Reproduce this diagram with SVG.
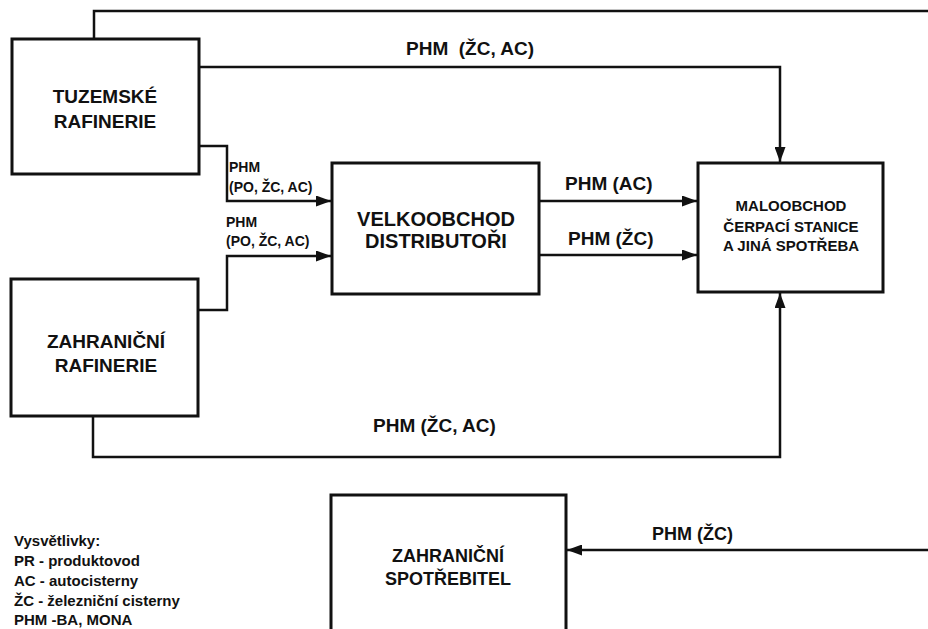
<svg xmlns="http://www.w3.org/2000/svg" width="928" height="629" viewBox="0 0 928 629">
<style>
.box{fill:#fff;stroke:#111;stroke-width:3}
.ln{fill:none;stroke:#111;stroke-width:2.5}
text{font-family:"Liberation Sans",Arial,sans-serif;font-weight:bold;fill:#111}
.c{text-anchor:middle}
.pre{white-space:pre}
</style>
<defs>
<marker id="ah" markerUnits="userSpaceOnUse" markerWidth="15" markerHeight="11" refX="15" refY="5.5" orient="auto">
<path d="M0,0 L15,5.5 L0,11 z" fill="#111"/>
</marker>
</defs>
<g id="connectors">
<path class="ln" d="M94,39 V11 H928"/>
<path class="ln" d="M199,67 H780 V162" marker-end="url(#ah)"/>
<path class="ln" d="M199,146 H227 V201 H331" marker-end="url(#ah)"/>
<path class="ln" d="M198,310 H227 V256 H331" marker-end="url(#ah)"/>
<path class="ln" d="M539,201 H697" marker-end="url(#ah)"/>
<path class="ln" d="M539,255 H697" marker-end="url(#ah)"/>
<path class="ln" d="M93,416 V457 H780 V293" marker-end="url(#ah)"/>
<path class="ln" d="M928,550 H567" marker-end="url(#ah)"/>
<text x="406" y="55" font-size="19" class="pre">PHM  (ŽC, AC)</text>
<text x="229" y="172" font-size="14">PHM</text>
<text x="229" y="192" font-size="14">(PO, ŽC, AC)</text>
<text x="226" y="227" font-size="14">PHM</text>
<text x="226" y="246" font-size="14">(PO, ŽC, AC)</text>
<text x="565" y="190" font-size="19">PHM (AC)</text>
<text x="568" y="245" font-size="19">PHM (ŽC)</text>
<text x="373" y="432" font-size="19">PHM (ŽC, AC)</text>
<text x="652" y="540" font-size="18">PHM (ŽC)</text>
</g>
<g id="tuzemske">
<rect class="box" x="12" y="39" width="187" height="135"/>
<text class="c" x="105" y="103" font-size="19">TUZEMSKÉ</text>
<text class="c" x="105" y="128" font-size="19">RAFINERIE</text>
</g>
<g id="zahranicni-rafinerie">
<rect class="box" x="11" y="279" width="187" height="137"/>
<text class="c" x="106" y="348" font-size="19">ZAHRANIČNÍ</text>
<text class="c" x="106" y="372" font-size="19">RAFINERIE</text>
</g>
<g id="velkoobchod">
<rect class="box" x="332" y="163" width="207" height="131"/>
<text class="c" x="436" y="226" font-size="20">VELKOOBCHOD</text>
<text class="c" x="436" y="248" font-size="20">DISTRIBUTOŘI</text>
</g>
<g id="maloobchod">
<rect class="box" x="698" y="163" width="185" height="129"/>
<text class="c" x="791" y="211" font-size="15">MALOOBCHOD</text>
<text class="c" x="791" y="232" font-size="15">ČERPACÍ STANICE</text>
<text class="c" x="791" y="251" font-size="15">A JINÁ SPOTŘEBA</text>
</g>
<g id="zahranicni-spotrebitel">
<rect class="box" x="331" y="495" width="235" height="150"/>
<text class="c" x="448" y="562" font-size="18">ZAHRANIČNÍ</text>
<text class="c" x="448" y="585" font-size="18">SPOTŘEBITEL</text>
</g>
<g id="legend">
<text x="14" y="546" font-size="15">Vysvětlivky:</text>
<text x="14" y="566" font-size="15">PR - produktovod</text>
<text x="14" y="586" font-size="15">AC - autocisterny</text>
<text x="14" y="606" font-size="15">ŽC - železniční cisterny</text>
<text x="14" y="625" font-size="15">PHM -BA, MONA</text>
</g>
</svg>
